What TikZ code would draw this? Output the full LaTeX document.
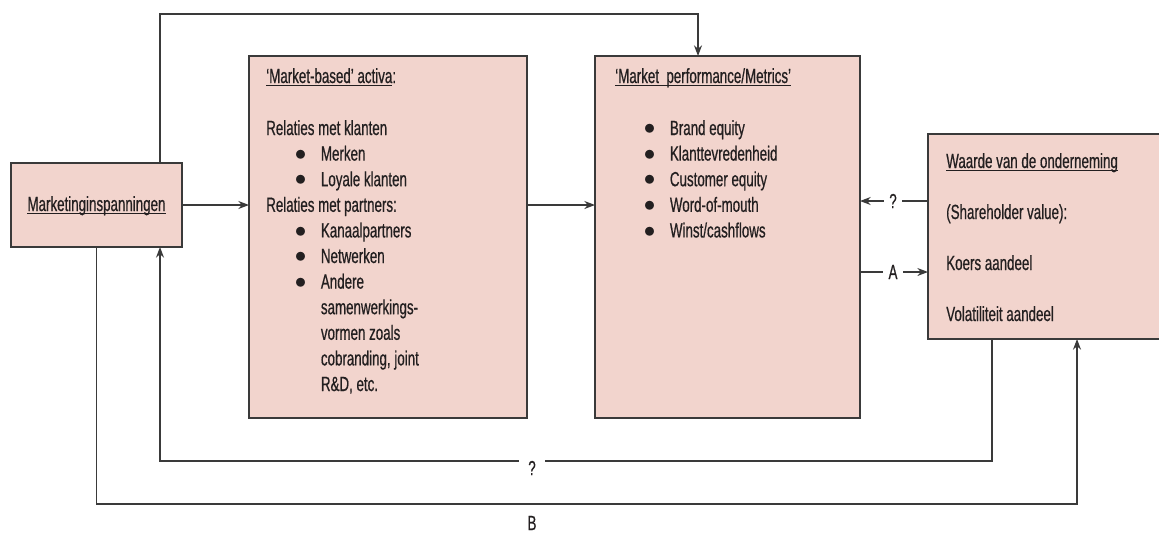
\documentclass[tikz,border=0pt]{standalone}
\usepackage{fontspec}
\setmainfont{Liberation Sans}[FakeStretch=0.65,FakeBold=0.6]
\usetikzlibrary{arrows.meta}
\definecolor{boxfill}{HTML}{F2D4CD}
\definecolor{linegray}{HTML}{3A3A3A}
\definecolor{txtgray}{HTML}{231F20}
\newcommand{\uln}[1]{{\setbox0\hbox{#1}\rlap{\rule[-2.2pt]{\wd0}{0.7pt}}\box0}}
\newcommand{\itm}{\makebox[41pt][l]{\hspace{21.5pt}\raisebox{0.2pt}{\scalebox{1.2}{$\bullet$}}}}
\tikzset{>={Stealth[length=8pt,width=6pt]},
  box/.style={draw=linegray,fill=boxfill,line width=1pt,inner sep=0pt,outer sep=0pt},
  txt/.style={anchor=base west,inner sep=0pt,text=txtgray,font=\fontsize{15.4}{19.2}\selectfont},
  lbl/.style={inner xsep=4pt,inner ysep=2pt,text=txtgray,font=\fontsize{15.4}{16}\selectfont},
  conn/.style={draw=linegray,line width=0.9pt}}

\begin{document}
\begin{tikzpicture}[x=0.75pt,y=-0.75pt]
\useasboundingbox (0,0) rectangle (1159,533);
\clip (0,0) rectangle (1159,533);
\node[box,minimum width=128.25pt,minimum height=63pt] (mkt) at (96.5,205) {};
\node[box,minimum width=208.5pt,minimum height=271.5pt] (activa) at (388,237) {};
\node[box,minimum width=198.75pt,minimum height=271.5pt] (perf) at (727.5,237) {};
\node[box,minimum width=185.25pt,minimum height=153.75pt] (waarde) at (1051.5,236.5) {};

\node[txt,anchor=base] (mkt-t) at (96.5,211) {\uln{Marketinginspanningen}};
\node[txt] (activa-t) at (266,83) {\uln{`Market-based' activa}:};
\foreach \s [count=\i] in {Relaties met klanten, \itm Merken, \itm Loyale klanten,
    Relaties met partners:, \itm Kanaalpartners, \itm Netwerken, \itm Andere,
    \hspace*{41pt}samenwerkings-, \hspace*{41pt}vormen zoals,
    {\hspace*{41pt}cobranding, joint}, {\hspace*{41pt}R\&D, etc.}}
  \node[txt] (activa-\i) at (266,{135+25.6*(\i-1)}) {\s};
\node[txt] (perf-t) at (615,83) {\uln{`Market\ \ performance/Metrics'}};
\foreach \s [count=\i] in {Brand equity, Klanttevredenheid, Customer equity,
    Word-of-mouth, {Winst/cashflows}}
  \node[txt] (perf-\i) at (615,{135+25.6*(\i-1)}) {\itm \s};
\foreach \s/\yy [count=\i] in {\uln{Waarde van de onderneming}/168,
    (Shareholder value):/219, Koers aandeel/270, Volatiliteit aandeel/321}
  \node[txt] (waarde-\i) at (946,\yy) {\s};

\draw[conn,->] (mkt.east) -- (mkt.east -| activa.west);
\draw[conn,->] (activa.east |- mkt.east) -- (perf.west |- mkt.east);
\draw[conn,->] (160,0 |- mkt.north) -- (160,14) -- (698,14) -- (698,0 |- perf.north);
\node[lbl] (q1) at (893,201) {?};
\draw[conn] (waarde.west |- q1) -- (q1);
\draw[conn,->] (q1) -- (perf.east |- q1);
\node[lbl] (a1) at (893,272) {A};
\draw[conn] (perf.east |- a1) -- (a1);
\draw[conn,->] (a1) -- (waarde.west |- a1);
\draw[conn,->] (992,0 |- waarde.south) -- (992,461) -- (160,461) -- (160,0 |- mkt.south);
\node[lbl,fill=white,inner xsep=7pt] (q2) at (532,468) {?};
\draw[conn,->] (mkt.south) -- (96.5,504) -- (1077,504) -- (1077,0 |- waarde.south);
\node[lbl] (b1) at (532,523) {B};
\end{tikzpicture}
\end{document}
